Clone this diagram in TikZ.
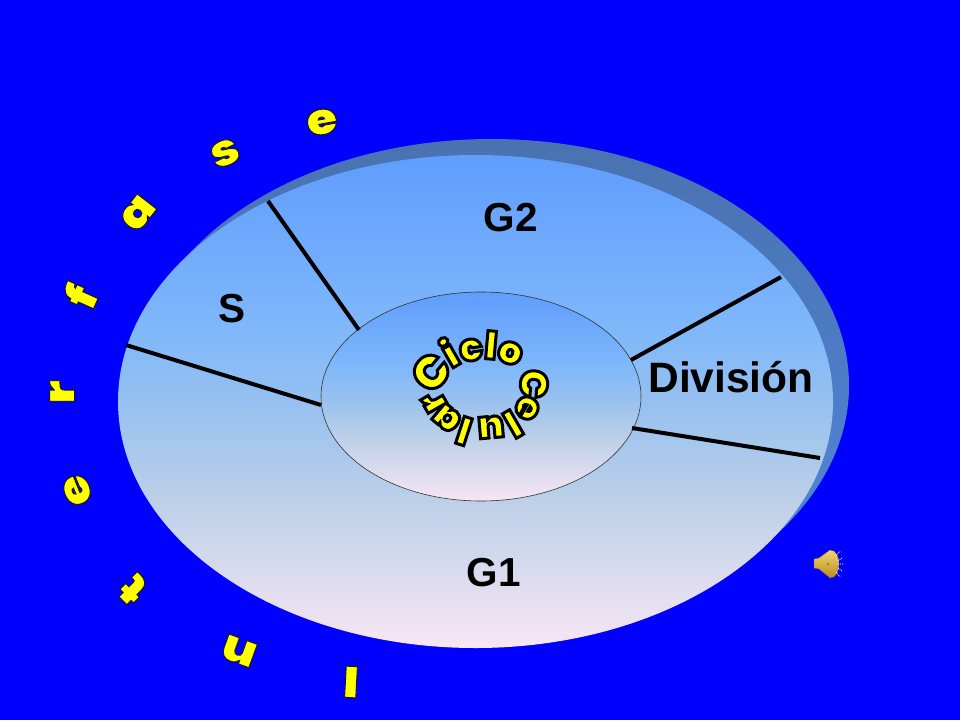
\documentclass[tikz,border=0pt]{standalone}
\usepackage{fontspec}
\setmainfont{Liberation Sans}
\newfontfamily\heavy{Poppins Black}
\newfontfamily\heavyw[FakeStretch=1.14]{Poppins Black}
\usetikzlibrary{shapes.geometric}
\definecolor{bgblue}{HTML}{0000FF}
\definecolor{shadowtop}{HTML}{4A72B0}
\definecolor{shadowbot}{HTML}{5088E0}
\definecolor{gpink}{HTML}{F8E6F4}
\definecolor{glow}{HTML}{BCD0E8}
\definecolor{gcen}{HTML}{96C0F0}
\definecolor{gmid}{HTML}{80B8FA}
\definecolor{gtop}{HTML}{5F9DFE}
\definecolor{spklight}{HTML}{F0D870}
\definecolor{spkdark}{HTML}{B88A20}
\pgfdeclareverticalshading{cellgrad}{100bp}{
  color(0bp)=(gpink);
  color(25bp)=(gpink);
  color(40bp)=(glow);
  color(50bp)=(gcen);
  color(57bp)=(gmid);
  color(75bp)=(gtop);
  color(100bp)=(gtop)}
\tikzset{
  x=1pt,y=-1pt,
  disc/.style={ellipse,inner sep=0pt,shading=cellgrad},
  phase/.style={font=\bfseries\fontsize{40.5}{48}\selectfont,text=black,inner sep=0pt},
  divider/.style={draw=black,line width=4pt},
  big/.style={inner sep=0pt,font=\heavyw\fontsize{44}{48}\selectfont},
  small/.style={inner sep=0pt,font=\heavy\fontsize{38}{40}\selectfont},
  bigc/.style={inner sep=0pt,font=\heavy\fontsize{46}{48}\selectfont},
}
\newcommand{\wa}[1]{\special{pdf:bcolor [1 1 0] [0.1 0.1 0]}\special{pdf:code 2 Tr 0.9 w}#1\special{pdf:code 0 Tr}\special{pdf:ecolor}}
\newcommand{\wb}[1]{\special{pdf:bcolor [1 1 0] [0 0 0]}\special{pdf:code 2 Tr 3 w}#1\special{pdf:code 0 Tr}\special{pdf:ecolor}}
\begin{document}
\begin{tikzpicture}
\useasboundingbox (0,0) rectangle (960,720);
\fill[bgblue] (0,0) rectangle (960,720);
\node[ellipse,inner sep=0pt,top color=shadowtop,bottom color=shadowbot,minimum width=715pt,minimum height=493pt] (shadow) at (491.5,385.5) {};
\node[disc,minimum width=715pt,minimum height=493pt] (outer) at (475.5,401.5) {};
\node[disc,draw=black!80,line width=0.6pt,minimum width=320pt,minimum height=209pt] (inner) at (481,396.5) {};
\coordinate (a1) at (268,201); \coordinate (a2) at (359,330);
\coordinate (b1) at (126,345); \coordinate (b2) at (321,405);
\coordinate (c1) at (781,277); \coordinate (c2) at (631,360);
\coordinate (d1) at (820,458); \coordinate (d2) at (632,428);
\draw[divider] (a1) -- (a2);
\draw[divider] (b1) -- (b2);
\draw[divider] (c1) -- (c2);
\draw[divider] (d1) -- (d2);
\node[phase] (g2) at (511,218) {G2};
\node[phase] (s) at (232,309) {S};
\node[phase,font=\bfseries\fontsize{42.5}{48}\selectfont] (div) at (731,377) {División};
\node[phase] (g1) at (494,573) {G1};
% Interfase
\node[big,rotate=177] (l1) at (351,682) {\wa{I}};
\node[big,rotate=160] (l2) at (239,651) {\wa{n}};
\node[big,rotate=135] (l3) at (133,589) {\wa{t}};
\node[big,rotate=112] (l4) at (77,490) {\wa{e}};
\node[big,rotate=90] (l5) at (62,392) {\wa{r}};
\node[big,rotate=66] (l6) at (80,296) {\wa{f}};
\node[big,rotate=52] (l7) at (138,213) {\wa{a}};
\node[big,rotate=25] (l8) at (225,153) {\wa{s}};
\node[big,rotate=10] (l9) at (322,122) {\wa{e}};
% Ciclo Celular
\node[bigc,rotate=50] (c01) at (431,372) {\wb{C}};
\node[small,rotate=30] (c02) at (449,352) {\wb{i}};
\node[small,rotate=8] (c03) at (471,350) {\wb{c}};
\node[small,rotate=-5] (c04) at (491,345) {\wb{l}};
\node[small,rotate=-20] (c05) at (510,353) {\wb{o}};
\node[small,rotate=-95] (c06) at (534,384) {\wb{C}};
\node[small,rotate=-120] (c07) at (527,408) {\wb{e}};
\node[small,rotate=-150] (c08) at (513,424) {\wb{l}};
\node[small,rotate=-175] (c09) at (491,427) {\wb{u}};
\node[small,rotate=162] (c10) at (464,431) {\wb{l}};
\node[small,rotate=140] (c11) at (447,418) {\wb{a}};
\node[small,rotate=120] (c12) at (434,402) {\wb{r}};
% speaker
\shade[top color=spklight,bottom color=spkdark,draw=spkdark!70!black,line width=0.3pt]
  (814,559) -- (819,558) -- (830,550) to[out=0,in=0,looseness=1.1] (830,578) -- (819,569) -- (814,568) -- cycle;
\fill[spkdark] (828,564) circle (1.6);
\draw[white,line width=0.7pt,dash pattern=on 1pt off 1pt]
  (836,556) -- (840,551) (838,561) -- (842,558) (838,564) -- (843,564) (838,568) -- (842,571) (836,572) -- (840,577);
\end{tikzpicture}
\end{document}
